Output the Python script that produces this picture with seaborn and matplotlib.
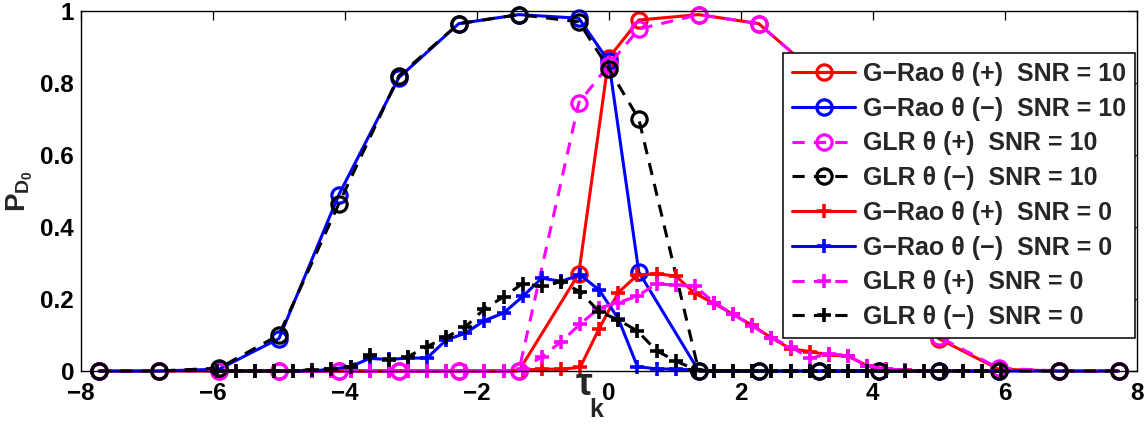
import numpy as np
import pandas as pd
import matplotlib
matplotlib.use("Agg")
import matplotlib.pyplot as plt
import seaborn as sns
from matplotlib.ticker import FuncFormatter

# delay grids
tau_snr10 = [-7.727, -6.818, -5.909, -5.0, -4.091, -3.182, -2.273, -1.364, -0.455, 0.0,
             0.455, 1.364, 2.273, 3.182, 4.091, 5.0, 5.909, 6.818, 7.727]
tau_snr0 = [-5.945, -5.655, -5.365, -5.075, -4.785, -4.495, -4.205, -3.915, -3.625, -3.335,
            -3.045, -2.755, -2.465, -2.175, -1.885, -1.595, -1.305, -1.015, -0.725, -0.435,
            -0.145, 0.145, 0.435, 0.725, 1.015, 1.305, 1.595, 1.885, 2.175, 2.465,
            2.755, 3.045, 3.335, 3.625, 3.915, 4.205, 4.495, 4.785, 5.075, 5.365,
            5.655, 5.945]

# SNR = 10
grao_pos_10 = [0, 0, 0, 0, 0, 0, 0, 0, 0.27, 0.87, 0.975, 0.99, 0.965, 0.82, 0.49, 0.09, 0.005, 0, 0]
grao_neg_10 = [0, 0, 0.005, 0.09, 0.49, 0.815, 0.965, 0.99, 0.98, 0.86, 0.275, 0, 0, 0, 0, 0, 0, 0, 0]
glr_pos_10 = [0, 0, 0, 0, 0, 0, 0, 0, 0.745, 0.85, 0.95, 0.99, 0.965, 0.82, 0.47, 0.095, 0.008, 0, 0]
glr_neg_10 = [0, 0, 0.008, 0.1, 0.465, 0.82, 0.965, 0.99, 0.97, 0.84, 0.70, 0, 0, 0, 0, 0, 0, 0, 0]

# SNR = 0
grao_pos_0 = [0, 0, 0, 0, 0, 0, 0, 0, 0, 0,
              0, 0, 0, 0, 0, 0, 0.003, 0.005, 0.005, 0.01,
              0.118, 0.218, 0.267, 0.27, 0.264, 0.216, 0.188, 0.157, 0.127, 0.092,
              0.062, 0.054, 0.045, 0.041, 0.015, 0.005, 0.002, 0, 0, 0,
              0, 0]
grao_neg_0 = [0, 0, 0, 0, 0, 0, 0.005, 0.012, 0.035, 0.032,
              0.036, 0.036, 0.086, 0.105, 0.14, 0.161, 0.207, 0.258, 0.249, 0.267,
              0.225, 0.145, 0.012, 0.006, 0.005, 0.003, 0, 0, 0, 0,
              0, 0, 0, 0, 0, 0, 0, 0, 0, 0,
              0, 0]
glr_pos_0 = [0, 0, 0, 0, 0, 0, 0, 0, 0, 0,
             0, 0, 0, 0, 0, 0, 0.005, 0.04, 0.081, 0.13,
             0.175, 0.19, 0.208, 0.243, 0.238, 0.236, 0.19, 0.158, 0.125, 0.092,
             0.068, 0.035, 0.048, 0.043, 0.014, 0.006, 0.002, 0, 0, 0,
             0, 0]
glr_neg_0 = [0, 0, 0, 0, 0, 0.003, 0.005, 0.012, 0.045, 0.03,
             0.04, 0.068, 0.094, 0.122, 0.173, 0.206, 0.243, 0.235, 0.248, 0.22,
             0.165, 0.142, 0.111, 0.056, 0.028, 0.004, 0, 0, 0, 0,
             0, 0, 0, 0, 0, 0, 0, 0, 0, 0,
             0, 0]

labels = ["G\u2212Rao \u03b8 (+)  SNR = 10", "G\u2212Rao \u03b8 (\u2212)  SNR = 10",
          "GLR \u03b8 (+)  SNR = 10", "GLR \u03b8 (\u2212)  SNR = 10",
          "G\u2212Rao \u03b8 (+)  SNR = 0", "G\u2212Rao \u03b8 (\u2212)  SNR = 0",
          "GLR \u03b8 (+)  SNR = 0", "GLR \u03b8 (\u2212)  SNR = 0"]

sns.set_style("white")
plt.rcParams["font.family"] = ["Liberation Sans", "DejaVu Sans"]
plt.rcParams["font.weight"] = "bold"
plt.rcParams["mathtext.fontset"] = "custom"
plt.rcParams["mathtext.rm"] = "Liberation Sans"
plt.rcParams["mathtext.bf"] = "Liberation Sans:bold"
plt.rcParams["mathtext.it"] = "Liberation Sans:italic"

fig = plt.figure(figsize=(11.48, 4.32), dpi=100)
ax = fig.add_axes([0.0706, 0.1412, 0.9194, 0.8333])

dash = (0, (4, 3))
series = [
    (tau_snr10, grao_pos_10, "red", "o", "-"),
    (tau_snr10, grao_neg_10, "blue", "o", "-"),
    (tau_snr10, glr_pos_10, "magenta", "o", dash),
    (tau_snr10, glr_neg_10, "black", "o", dash),
    (tau_snr0, grao_pos_0, "red", "+", "-"),
    (tau_snr0, grao_neg_0, "blue", "+", "-"),
    (tau_snr0, glr_pos_0, "magenta", "+", dash),
    (tau_snr0, glr_neg_0, "black", "+", dash),
]
for (xs, ys, col, mk, ls), lab in zip(series, labels):
    sns.lineplot(x=xs, y=ys, ax=ax, color=col, marker=mk, linestyle=ls, linewidth=2.2,
                 markersize=11 if mk == "o" else 10, markerfacecolor="none",
                 markeredgecolor=col, markeredgewidth=2.3 if mk == "o" else 2.6,
                 label=lab, clip_on=False)

ax.set_xlim(-8, 8)
ax.set_ylim(0, 1)
ax.set_xticks(np.arange(-8, 9, 2))
ax.set_yticks(np.arange(0, 1.01, 0.2))
ax.yaxis.set_major_formatter(FuncFormatter(lambda v, p: f"{v:g}"))
ax.xaxis.set_major_formatter(FuncFormatter(lambda v, p: f"{v:g}".replace("-", "\u2212")))
ax.tick_params(direction="in", top=True, right=True, length=6.5, width=0.9,
               labelsize=17.5, pad=5, colors="black")
ax.tick_params(axis="x", pad=8)
for sp in ax.spines.values():
    sp.set_visible(True)
    sp.set_color("black")
    sp.set_linewidth(1.0)

ax.set_ylabel(r"$\mathbf{P}_{\mathbf{D}_{\mathbf{0}}}$", fontsize=20, labelpad=4)
# x label drawn as tau with a dropped subscript, as in the original
ax.text(0.4768, -0.04, r"$\mathrm{\tau}$", transform=ax.transAxes,
        ha="center", va="center", fontsize=27, fontweight="normal")
ax.text(0.4885, -0.108, "k", transform=ax.transAxes,
        ha="center", va="center", fontsize=18, fontweight="bold")

leg = ax.legend(loc="upper left", bbox_to_anchor=(0.665, 0.883), fontsize=18,
                handlelength=2.55, handletextpad=0.3, borderpad=0.35, labelspacing=0.43,
                numpoints=1, frameon=True, fancybox=False, framealpha=1,
                edgecolor="black", borderaxespad=0)
leg.get_frame().set_linewidth(1.1)

fig.savefig("out.png", dpi=100)
